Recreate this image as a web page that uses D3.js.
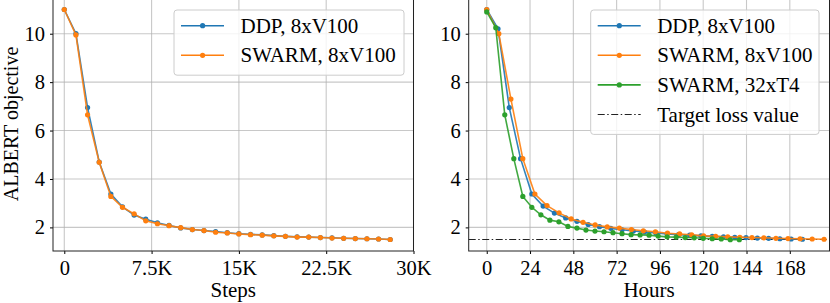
<!DOCTYPE html>
<html>
<head>
<meta charset="utf-8">
<script src="https://cdn.jsdelivr.net/npm/d3@7"></script>
<style>
  body { margin: 0; background: #fff; }
  svg { display: block; }
  svg text { font-family: "Liberation Serif", "DejaVu Serif", serif !important; }
</style>
</head>
<body>
<svg id="chart" width="830" height="303"></svg>
<script>
// left panel: loss vs optimizer steps
const steps = [0, 1000, 2000, 3000, 4000, 5000, 6000, 7000, 8000, 9000, 10000, 11000, 12000, 13000, 14000,
    15000, 16000, 17000, 18000, 19000, 20000, 21000, 22000, 23000, 24000, 25000, 26000, 27000, 28000];
const ddpStepLoss = [11.0, 10.0, 6.95, 4.7, 3.38, 2.85, 2.51, 2.34, 2.19, 2.08, 1.98, 1.91, 1.87, 1.83, 1.78,
    1.74, 1.71, 1.69, 1.66, 1.63, 1.61, 1.60, 1.58, 1.57, 1.55, 1.54, 1.53, 1.52, 1.50];
const swarmStepLoss = [11.0, 9.95, 6.65, 4.69, 3.28, 2.83, 2.56, 2.27, 2.15, 2.07, 1.99, 1.91, 1.87, 1.80, 1.77,
    1.73, 1.70, 1.68, 1.65, 1.63, 1.60, 1.60, 1.58, 1.56, 1.55, 1.54, 1.53, 1.52, 1.50];

// right panel: loss vs wall-clock hours
const ddpHours = [0, 6.25, 12.5, 18.75, 25, 31.25, 37.5, 43.75, 50, 56.25, 62.5, 68.75, 75, 81.25, 87.5,
    93.75, 100, 106.25, 112.5, 118.75, 125, 131.25, 137.5, 143.75, 150, 156.25, 162.5, 168.75, 175];
const ddpHourLoss = [11.0, 10.2, 6.95, 4.84, 3.38, 2.88, 2.59, 2.39, 2.25, 2.12, 2.03, 1.96, 1.90, 1.85, 1.81,
    1.77, 1.73, 1.70, 1.68, 1.65, 1.63, 1.61, 1.59, 1.58, 1.56, 1.55, 1.53, 1.52, 1.51];
const swarmV100Hours = [0, 6.7, 13.4, 20.0, 26.7, 33.4, 40.1, 46.8, 53.4, 60.1, 66.8, 73.5, 80.2, 86.8, 93.5,
    100.2, 106.9, 113.6, 120.2, 126.9, 133.6, 140.3, 147.0, 153.6, 160.3, 167.0, 173.7, 180.4, 187.0];
const swarmV100Loss = [11.0, 10.0, 7.3, 4.84, 3.38, 2.9, 2.6, 2.35, 2.21, 2.1, 2.02, 1.97, 1.91, 1.86, 1.82,
    1.76, 1.73, 1.69, 1.65, 1.63, 1.61, 1.59, 1.58, 1.57, 1.55, 1.54, 1.53, 1.52, 1.51];
const swarmT4Hours = [0, 5, 10, 15, 20, 25, 30, 35, 40, 45, 50, 55, 60, 65, 70,
    75, 80, 85, 90, 95, 100, 105, 110, 115, 120, 125, 130, 135, 140];
const swarmT4Loss = [10.9, 10.25, 6.65, 4.84, 3.28, 2.83, 2.52, 2.3, 2.23, 2.04, 1.97, 1.89, 1.85, 1.82, 1.78,
    1.74, 1.70, 1.69, 1.68, 1.64, 1.61, 1.60, 1.58, 1.57, 1.55, 1.53, 1.52, 1.49, 1.49];
const targetLoss = 1.5;

const stepTicks = [0, 7500, 15000, 22500, 30000];
const stepTickLabels = ['0', '7.5K', '15K', '22.5K', '30K'];
const hourTicks = [0, 24, 48, 72, 96, 120, 144, 168];
const lossTicks = [2, 4, 6, 8, 10];

const C_BLUE = '#1f77b4', C_ORANGE = '#ff7f0e', C_GREEN = '#2ca02c';

const svg = d3.select('#chart');
const yTop = -2, yBot = 251;

function panel(opts) {
    const x = d3.scaleLinear().domain(opts.xDomain).range(opts.xRange);
    const y = d3.scaleLinear().domain([1.025, 11.475]).range([yBot, yTop]);
    const g = svg.append('g');

    // grid
    g.append('g').selectAll('line').data(opts.xTicks).join('line')
        .attr('x1', d => x(d)).attr('x2', d => x(d))
        .attr('y1', yTop).attr('y2', yBot)
        .attr('stroke', '#b0b0b0').attr('stroke-opacity', 0.7).attr('stroke-width', 1.1);
    g.append('g').selectAll('line').data(lossTicks).join('line')
        .attr('x1', opts.xRange[0]).attr('x2', opts.xRange[1])
        .attr('y1', d => y(d)).attr('y2', d => y(d))
        .attr('stroke', '#b0b0b0').attr('stroke-opacity', 0.7).attr('stroke-width', 1.1);

    // axes: only ticks + labels, the frame is a rect further down
    const xAxis = d3.axisBottom(x).tickValues(opts.xTicks).tickSize(3).tickPadding(6)
        .tickFormat((d, i) => opts.xLabels ? opts.xLabels[i] : d);
    const gx = g.append('g').attr('transform', `translate(0,${yBot})`).call(xAxis);
    gx.select('.domain').remove();
    gx.attr('font-family', null).attr('font-size', null);
    gx.selectAll('text').style('font-size', '20.5px').attr('fill', '#000');

    const yAxis = d3.axisLeft(y).tickValues(lossTicks).tickSize(3).tickPadding(5);
    const gy = g.append('g').attr('transform', `translate(${opts.xRange[0]},0)`).call(yAxis);
    gy.select('.domain').remove();
    gy.attr('font-family', null).attr('font-size', null);
    gy.selectAll('text').style('font-size', '20.5px').attr('fill', '#000');

    if (opts.target != null) {
        g.append('line')
            .attr('x1', opts.xRange[0]).attr('x2', opts.xRange[1])
            .attr('y1', y(opts.target)).attr('y2', y(opts.target))
            .attr('stroke', '#222').attr('stroke-width', 1.2)
            .attr('stroke-dasharray', '7,2.5,1.5,2.5');
    }

    const line = d3.line().x(d => x(d[0])).y(d => y(d[1]));
    opts.series.forEach(s => {
        const pts = s.xs.map((v, i) => [v, s.ys[i]]);
        g.append('path').datum(pts)
            .attr('d', line).attr('fill', 'none')
            .attr('stroke', s.color).attr('stroke-width', 1.6).attr('stroke-opacity', 0.9);
        g.append('g').selectAll('circle').data(pts).join('circle')
            .attr('cx', d => x(d[0])).attr('cy', d => y(d[1]))
            .attr('r', 2.6).attr('fill', s.color);
    });

    // spines
    g.append('rect')
        .attr('x', opts.xRange[0]).attr('y', yTop)
        .attr('width', opts.xRange[1] - opts.xRange[0]).attr('height', yBot - yTop)
        .attr('fill', 'none').attr('stroke', '#222').attr('stroke-width', 1);

    // x label
    g.append('text')
        .attr('x', (opts.xRange[0] + opts.xRange[1]) / 2).attr('y', 297)
        .attr('text-anchor', 'middle').style('font-size', '21px').text(opts.xTitle);

    // legend
    const lg = g.append('g').attr('transform', `translate(${opts.legend.x},10)`);
    const rowH = 29.6;
    lg.append('rect')
        .attr('width', opts.legend.w).attr('height', 16 + rowH * opts.legend.items.length - 10)
        .attr('rx', 3)
        .attr('fill', '#fff').attr('fill-opacity', 0.8)
        .attr('stroke', '#cccccc').attr('stroke-width', 1);
    opts.legend.items.forEach((it, i) => {
        const cy = 15.7 + i * rowH;
        const row = lg.append('g');
        row.append('line')
            .attr('x1', 7).attr('x2', 50).attr('y1', cy).attr('y2', cy)
            .attr('stroke', it.color).attr('stroke-width', it.dash ? 1.2 : 1.6)
            .attr('stroke-dasharray', it.dash ? '7,2.5,1.5,2.5' : null);
        if (!it.dash) {
            row.append('circle').attr('cx', 28.6).attr('cy', cy).attr('r', 2.6).attr('fill', it.color);
        }
        row.append('text')
            .attr('x', 66.5).attr('y', cy + 7).style('font-size', '21px').text(it.label);
    });
}

panel({
    xDomain: [-970, 30000], xRange: [53, 413.5],
    xTicks: stepTicks, xLabels: stepTickLabels, xTitle: 'Steps',
    series: [
        { xs: steps, ys: ddpStepLoss, color: C_BLUE },
        { xs: steps, ys: swarmStepLoss, color: C_ORANGE }
    ],
    legend: { x: 174, w: 230, items: [
        { label: 'DDP, 8xV100', color: C_BLUE },
        { label: 'SWARM, 8xV100', color: C_ORANGE }
    ] }
});

panel({
    xDomain: [-10, 190], xRange: [468.7, 829.5],
    xTicks: hourTicks, xTitle: 'Hours', target: targetLoss,
    series: [
        { xs: ddpHours, ys: ddpHourLoss, color: C_BLUE },
        { xs: swarmV100Hours, ys: swarmV100Loss, color: C_ORANGE },
        { xs: swarmT4Hours, ys: swarmT4Loss, color: C_GREEN }
    ],
    legend: { x: 590.7, w: 228.3, items: [
        { label: 'DDP, 8xV100', color: C_BLUE },
        { label: 'SWARM, 8xV100', color: C_ORANGE },
        { label: 'SWARM, 32xT4', color: C_GREEN },
        { label: 'Target loss value', color: '#222', dash: true }
    ] }
});

// shared y label
svg.append('text')
    .attr('transform', 'translate(18,124) rotate(-90)')
    .attr('text-anchor', 'middle').style('font-size', '20px')
    .text('ALBERT objective');
</script>
</body>
</html>
